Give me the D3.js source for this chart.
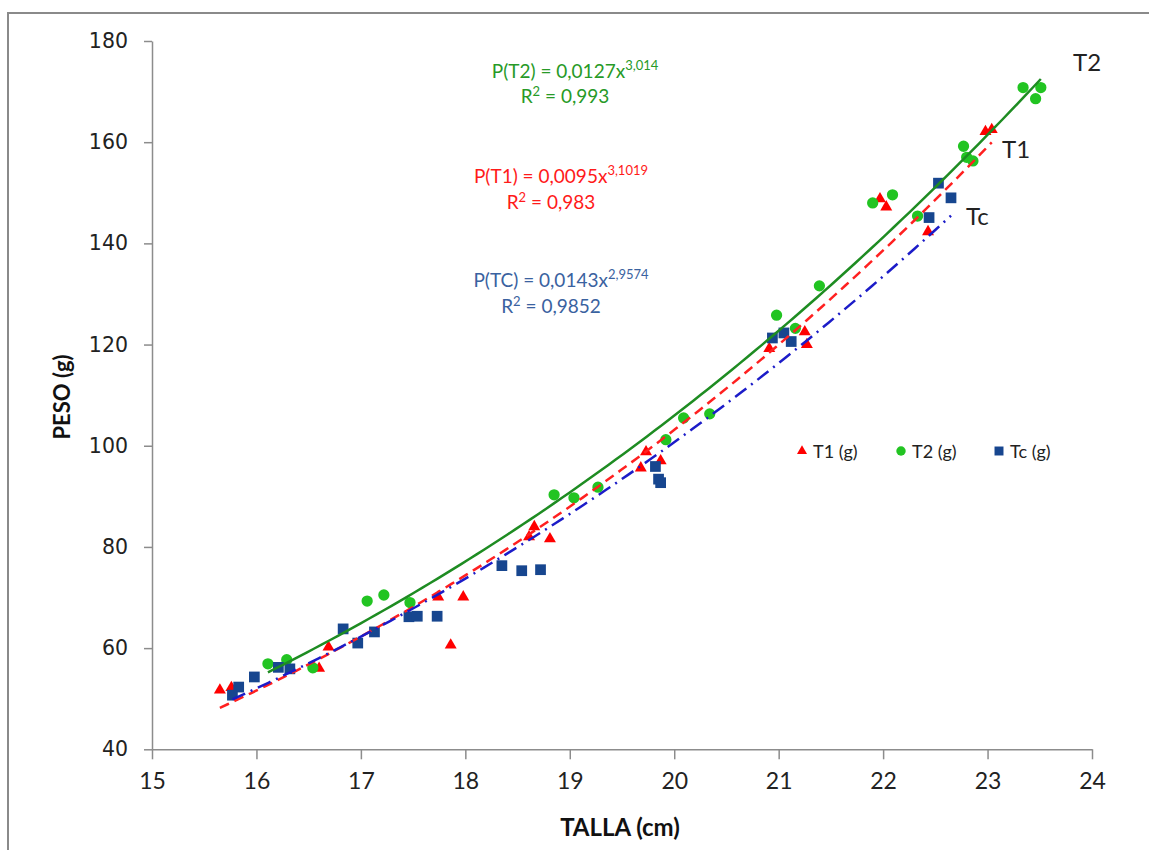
<!DOCTYPE html>
<html lang="es">
<head>
<meta charset="utf-8">
<title>Peso vs talla</title>
<script src="https://cdn.jsdelivr.net/npm/d3@7"></script>
<style>
  body { margin: 0; background: #fff; }
  svg text { font-family: Lato, "Open Sans", sans-serif; }
  .axis path, .axis line { stroke: #8c8c8c; stroke-width: 1.5; }
  .yaxis text { font-family: "DejaVu Sans", sans-serif; font-size: 20.5px; fill: #222; }
  .xaxis text { font-size: 23px; fill: #222; }
</style>
</head>
<body>
<div id="vis"></div>
<script>
// talla (cm) / peso (g)
var t1Talla = [15.65, 15.76, 16.6, 16.69, 17.74, 17.98, 17.86, 18.66, 18.61, 18.81,
               19.73, 19.68, 19.87, 20.91, 21.25, 21.27, 21.97, 22.03, 22.43, 22.98, 23.04];
var t1Peso  = [51.7, 52.2, 56.0, 60.2, 70.1, 70.1, 60.6, 84.0, 82.0, 81.6,
               98.8, 95.6, 97.0, 119.2, 122.5, 120.0, 148.8, 147.2, 142.3, 162.1, 162.5];

var t2Talla = [16.11, 16.29, 16.54, 17.06, 17.22, 17.47, 18.85, 19.04, 19.27, 19.92,
               20.09, 20.34, 20.98, 21.16, 21.39, 21.9, 22.09, 22.33, 22.77, 22.8, 22.86,
               23.34, 23.46, 23.51];
var t2Peso  = [56.9, 57.7, 56.1, 69.3, 70.5, 69.0, 90.3, 89.7, 91.8, 101.2,
               105.5, 106.3, 125.8, 123.2, 131.6, 148.0, 149.6, 145.4, 159.2, 157.0, 156.3,
               170.8, 168.6, 170.8];

var tcTalla = [15.77, 15.83, 15.98, 16.21, 16.32, 16.83, 16.97, 17.13, 17.46, 17.54,
               17.73, 18.35, 18.54, 18.72, 19.82, 19.85, 19.87, 20.94, 21.05, 21.12,
               22.44, 22.53, 22.65];
var tcPeso  = [50.7, 52.3, 54.3, 56.2, 55.9, 63.8, 61.0, 63.2, 66.2, 66.3,
               66.3, 76.3, 75.3, 75.5, 95.9, 93.4, 92.7, 121.3, 122.3, 120.6,
               145.1, 151.9, 149.0];

// ajustes potenciales P = a * x^b (de las ecuaciones del grafico)
var fitNames = ["T1", "T2", "Tc"];
var fitA = [0.0095, 0.0127, 0.0143];
var fitB = [3.1019, 3.014, 2.9574];
var fitR2 = ["0,983", "0,993", "0,9852"];
var fitEq = [["P(T1) = 0,0095x", "3,1019"], ["P(T2) = 0,0127x", "3,014"], ["P(TC) = 0,0143x", "2,9574"]];

var xTicks = [15, 16, 17, 18, 19, 20, 21, 22, 23, 24];
var yTicks = [40, 60, 80, 100, 120, 140, 160, 180];
var legendLabels = ["T1", "T2", "Tc"];

var W = 1149, H = 850;
var svg = d3.select("#vis").append("svg").attr("width", W).attr("height", H);

// marco
svg.append("rect").attr("x", 8).attr("y", 13).attr("width", W + 20).attr("height", H + 20)
  .attr("fill", "none").attr("stroke", "#8a8a8a").attr("stroke-width", 2);

var x = d3.scaleLinear().domain([15, 24]).range([152, 1092]);
var y = d3.scaleLinear().domain([40, 180]).range([749.3, 41]);

var gx = svg.append("g").attr("class", "axis xaxis")
  .attr("transform", "translate(0," + y(40) + ")")
  .call(d3.axisBottom(x).tickValues(xTicks).tickSize(10).tickSizeOuter(0).tickPadding(8));
gx.selectAll("text").attr("dy", "0.95em");

var gy = svg.append("g").attr("class", "axis yaxis")
  .attr("transform", "translate(" + x(15) + ",0)")
  .call(d3.axisLeft(y).tickValues(yTicks).tickSize(8).tickSizeOuter(0).tickPadding(16));

svg.append("text").attr("x", 620).attr("y", 836).attr("text-anchor", "middle")
  .attr("font-weight", "bold").attr("font-size", 24).attr("fill", "#111").text("TALLA (cm)");
svg.append("text").attr("transform", "translate(70,397) rotate(-90)").attr("text-anchor", "middle")
  .attr("font-weight", "bold").attr("font-size", 22).attr("fill", "#111").text("PESO (g)");

var series = [
  {talla: t1Talla, peso: t1Peso, sym: d3.symbolTriangle, size: 62, fill: "#ff0000"},
  {talla: t2Talla, peso: t2Peso, sym: d3.symbolCircle, size: 100, fill: "#22c422"},
  {talla: tcTalla, peso: tcPeso, sym: d3.symbolSquare, size: 115, fill: "#17468f"}
];

series.forEach(function(s) {
  svg.append("g").selectAll("path").data(s.talla).enter().append("path")
    .attr("d", d3.symbol().type(s.sym).size(s.size))
    .attr("transform", function(d, i) { return "translate(" + x(d) + "," + y(s.peso[i]) + ")"; })
    .attr("fill", s.fill);
});

// lineas de tendencia
var trendStyle = [
  {color: "#ff2020", dash: "10,6"},
  {color: "#1e8c22", dash: null},
  {color: "#1c1cc8", dash: "14,6,2,6"}
];
var line = d3.line().x(function(d) { return x(d[0]); }).y(function(d) { return y(d[1]); });
[1, 0, 2].forEach(function(k) {
  var s = series[k];
  var x0 = d3.min(s.talla), x1 = d3.max(s.talla);
  var pts = d3.range(0, 101).map(function(j) {
    var t = x0 + (x1 - x0) * j / 100;
    return [t, fitA[k] * Math.pow(t, fitB[k])];
  });
  svg.append("path").attr("d", line(pts)).attr("fill", "none")
    .attr("stroke", trendStyle[k].color).attr("stroke-width", 2.5)
    .attr("stroke-dasharray", trendStyle[k].dash);
});

// ecuaciones
var eqPos = [{cx: 561, y1: 183, y2: 209, c: "#ff1a1a"},
             {cx: 575, y1: 78, y2: 103, c: "#279a27"},
             {cx: 561, y1: 287, y2: 313, c: "#3a62a0"}];
eqPos.forEach(function(p, k) {
  var t = svg.append("text").attr("x", p.cx).attr("y", p.y1).attr("text-anchor", "middle")
    .attr("font-size", 19).attr("fill", p.c);
  t.append("tspan").text(fitEq[k][0]);
  t.append("tspan").attr("font-size", 13).attr("dy", -8).text(fitEq[k][1]);
  var r = svg.append("text").attr("x", p.cx - 10).attr("y", p.y2).attr("text-anchor", "middle")
    .attr("font-size", 19).attr("fill", p.c);
  r.append("tspan").text("R");
  r.append("tspan").attr("font-size", 13).attr("dy", -7).text("2");
  r.append("tspan").attr("dy", 7).text(" = " + fitR2[k]);
});

// etiquetas de las curvas
var tagPos = [[1002, 158], [1073, 71], [966, 225]];
tagPos.forEach(function(p, k) {
  svg.append("text").attr("x", p[0]).attr("y", p[1]).attr("font-size", 24)
    .attr("fill", "#222").text(fitNames[k]);
});

// leyenda
var legX = [802, 901, 999];
series.forEach(function(s, k) {
  svg.append("path").attr("d", d3.symbol().type(s.sym).size(s.size * 0.7))
    .attr("transform", "translate(" + legX[k] + ",451)").attr("fill", s.fill);
  var t = svg.append("text").attr("x", legX[k] + 11).attr("y", 458).attr("font-size", 18).attr("fill", "#222");
  t.append("tspan").text(legendLabels[k] + " ");
  t.append("tspan").text("(g)");
});
</script>
</body>
</html>
